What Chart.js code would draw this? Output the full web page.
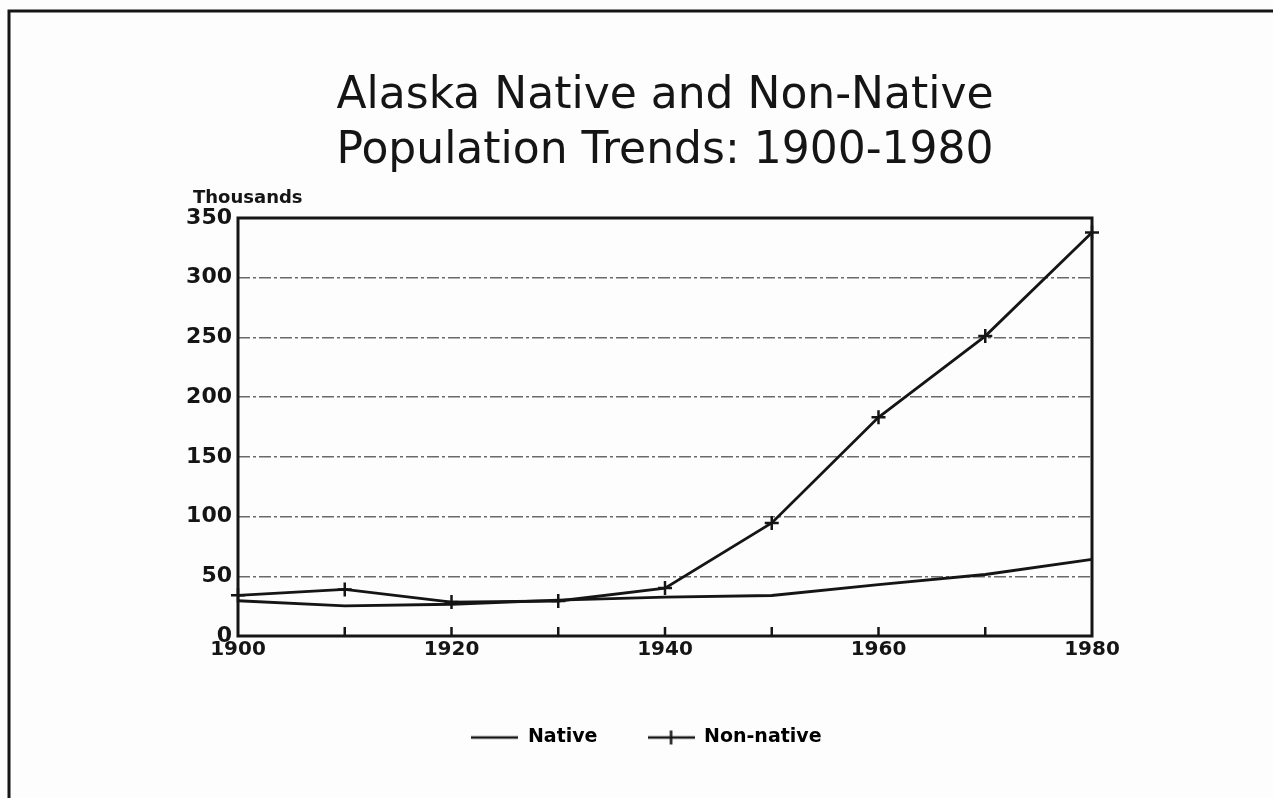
<!DOCTYPE html>
<html>
<head>
<meta charset="utf-8">
<title>Alaska Native and Non-Native Population Trends</title>
<script src="https://cdn.jsdelivr.net/npm/chart.js@4.4.1/dist/chart.umd.min.js"></script>
<style>
  html, body { margin: 0; padding: 0; background: #fdfdfd; }
  #wrap { width: 1273px; height: 798px; }
</style>
</head>
<body>
<div id="wrap"><canvas id="popChart" width="1273" height="798"></canvas></div>
<script>
// data (thousands)
const years = [1900, 1910, 1920, 1930, 1940, 1950, 1960, 1970, 1980];
const nativePop = [29.5, 25.3, 26.6, 30.0, 32.5, 33.9, 43.1, 51.5, 64.1];
const nonNativePop = [34.1, 39.0, 28.4, 29.3, 40.1, 94.7, 183.1, 251.1, 337.8];
const yTicks = [0, 50, 100, 150, 200, 250, 300, 350];
const xLabelYears = [1900, 1920, 1940, 1960, 1980];

const ink = '#151515';
const labelFont = 'DejaVu Sans';

// little legend swatches: plain line, line with a cross
function swatch(withCross) {
    const c = document.createElement('canvas');
    c.width = 47; c.height = 16;
    const g = c.getContext('2d');
    g.strokeStyle = ink;
    g.lineWidth = 2.5;
    g.beginPath(); g.moveTo(0, 8); g.lineTo(47, 8); g.stroke();
    if (withCross) {
        g.beginPath(); g.moveTo(23.5, 1); g.lineTo(23.5, 15); g.stroke();
    }
    return c;
}

const framePlugin = {
    id: 'frame',
    beforeDraw(chart) {
        const ctx = chart.ctx;
        ctx.save();
        ctx.strokeStyle = ink;
        ctx.lineWidth = 3;
        ctx.beginPath();
        ctx.moveTo(9, 798); ctx.lineTo(9, 11); ctx.lineTo(1273, 11);
        ctx.stroke();
        ctx.restore();
    },
    afterDatasetsDraw(chart) {
        const {ctx, chartArea: a, scales} = chart;
        ctx.save();
        ctx.strokeStyle = ink;
        ctx.lineWidth = 3;
        ctx.strokeRect(a.left, a.top, a.right - a.left, a.bottom - a.top);
        // decade tick marks pointing up into the plot
        ctx.lineWidth = 2.5;
        years.slice(1, -1).forEach(v => {
            const x = scales.x.getPixelForValue(v);
            ctx.beginPath(); ctx.moveTo(x, a.bottom); ctx.lineTo(x, a.bottom - 9); ctx.stroke();
        });
        ctx.fillStyle = ink;
        ctx.font = 'bold 18px ' + labelFont;
        ctx.textAlign = 'left';
        ctx.textBaseline = 'alphabetic';
        ctx.fillText('Thousands', a.left - 45, a.top - 15);
        ctx.restore();
    }
};

const ctx = document.getElementById('popChart').getContext('2d');

new Chart(ctx, {
    type: 'line',
    data: {
        datasets: [{
            label: 'Native',
            data: years.map((x, i) => ({x: x, y: nativePop[i]})),
            borderColor: ink,
            borderWidth: 2.8,
            pointRadius: 0,
            tension: 0
        }, {
            label: 'Non-native',
            data: years.map((x, i) => ({x: x, y: nonNativePop[i]})),
            borderColor: ink,
            borderWidth: 2.8,
            pointStyle: 'cross',
            pointRadius: 7,
            pointBorderWidth: 2.5,
            pointBorderColor: ink,
            tension: 0
        }]
    },
    options: {
        responsive: false,
        animation: false,
        clip: false,
        layout: {
            padding: {left: 20, right: 0, top: 0, bottom: 41}
        },
        scales: {
            x: {
                type: 'linear',
                min: 1900,
                max: 1980,
                afterFit: s => { s.height = 42; },
                grid: {display: false, drawTicks: false},
                border: {display: false},
                ticks: {
                    stepSize: 10,
                    autoSkip: false,
                    maxRotation: 0,
                    padding: 2,
                    color: ink,
                    font: {family: labelFont, size: 20, weight: 'bold'},
                    callback: v => xLabelYears.includes(v) ? String(v) : ''
                }
            },
            y: {
                min: 0,
                max: 350,
                afterFit: s => { s.width = 218; },
                afterBuildTicks: s => { s.ticks = yTicks.map(v => ({value: v})); },
                grid: {
                    drawTicks: false,
                    color: c => (c.tick.value === 0 || c.tick.value === 350) ? 'rgba(0,0,0,0)' : '#6a6a6a',
                    lineWidth: 1.5
                },
                border: {display: false, dash: [12, 3, 3, 3]},
                ticks: {
                    padding: 6,
                    color: ink,
                    font: {family: labelFont, size: 22, weight: 'bold'}
                }
            },
            y2: {
                position: 'right',
                afterFit: s => { s.width = 181; },
                grid: {display: false},
                border: {display: false},
                ticks: {display: false}
            }
        },
        plugins: {
            title: {
                display: true,
                fullSize: false,
                text: ['Alaska Native and Non-Native', 'Population Trends: 1900-1980'],
                color: ink,
                font: {family: labelFont, size: 44, weight: 'normal', lineHeight: 1.25},
                padding: {top: 69, bottom: 39}
            },
            legend: {
                position: 'bottom',
                labels: {
                    usePointStyle: true,
                    pointStyleWidth: 47,
                    padding: 50,
                    color: ink,
                    font: {family: labelFont, size: 19, weight: 'bold'},
                    generateLabels: chart => chart.data.datasets.map((d, i) => ({
                        text: d.label,
                        pointStyle: swatch(i === 1),
                        fillStyle: ink,
                        strokeStyle: ink,
                        lineWidth: 0,
                        hidden: false,
                        datasetIndex: i
                    }))
                }
            },
            tooltip: {enabled: false}
        }
    },
    plugins: [framePlugin]
});
</script>
</body>
</html>
